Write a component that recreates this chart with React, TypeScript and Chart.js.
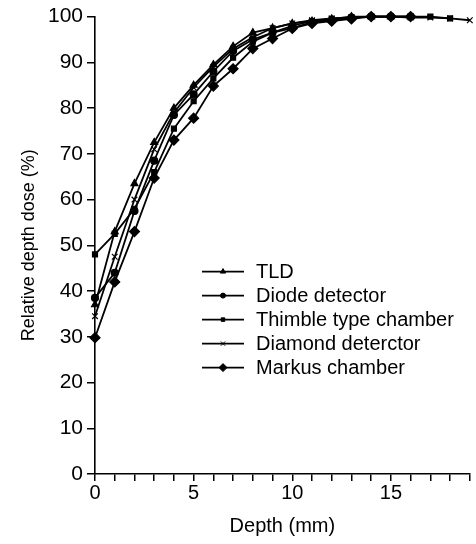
import React, { useEffect, useRef } from 'react';
import { Chart, registerables } from 'chart.js';
import { drawPoint } from 'chart.js/helpers';

Chart.register(...registerables);

const depth = [0, 1, 2, 3, 4, 5, 6, 7, 8, 9, 10, 11, 12, 13, 14, 15, 16, 17, 18, 19];
const seriesNames = ['TLD', 'Diode detector', 'Thimble type chamber', 'Diamond deterctor', 'Markus chamber'];
const tld = [37, 53, 63.5, 72.5, 80, 85, 89.5, 93.5, 96.5, 97.5, 98.5, 99, 99.5, 100, 100, 100, 100];
const diode = [38.5, 44, 57.5, 68.5, 78.5, 83, 88, 92.5, 95, 96.5, 97.5, 98.8, 99.2, 99.8, 100, 100, 100];
const thimble = [48, 52.5, 58, 66, 75.5, 81.5, 86.5, 91, 94.5, 96.5, 98, 99, 99.5, 99.8, 100, 100, 100, 100, 99.6];
const diamond = [34.5, 47.5, 60, 71, 79, 84.5, 89, 93, 95.5, 97.5, 98.5, 99.2, 99.6, 99.8, 100, 100, 99.8, 99.8, 99.6, 99.2];
const markus = [29.8, 42, 53, 64.7, 73, 77.8, 84.8, 88.6, 93, 95.2, 97.4, 98.5, 99, 99.5, 100, 100, 100];
const pointStyles = ['triangle', 'circle', 'rect', 'crossRot', 'rectRot'];
const pointSizes = [4, 3.5, 3.5, 4, 5];
const xTickLabels = [0, 5, 10, 15];

const FONT = "'Liberation Sans', Arial, sans-serif";

const toPoints = (vals: number[]) => vals.map((v, i) => ({ x: depth[i], y: v }));

const lineLegend = {
  id: 'lineLegend',
  afterDraw(chart: any) {
    const { ctx, chartArea } = chart;
    const x0 = chartArea.left + 107;
    const y0 = chartArea.top + 255;
    const rowH = 24;
    chart.data.datasets.forEach((ds: any, i: number) => {
      const y = y0 + i * rowH;
      ctx.save();
      ctx.strokeStyle = '#000';
      ctx.fillStyle = '#000';
      ctx.lineWidth = 1.8;
      ctx.beginPath();
      ctx.moveTo(x0, y);
      ctx.lineTo(x0 + 42, y);
      ctx.stroke();
      ctx.lineWidth = 1;
      drawPoint(ctx, { pointStyle: ds.pointStyle, radius: Math.max(2.5, ds.pointRadius - 1), rotation: 0, borderWidth: 1 } as any, x0 + 21, y);
      ctx.font = `20px ${FONT}`;
      ctx.textBaseline = 'middle';
      ctx.textAlign = 'left';
      ctx.fillText(ds.label, x0 + 54, y + 1);
      ctx.restore();
    });
  },
};

export default function App() {
  const ref = useRef<HTMLCanvasElement>(null);
  useEffect(() => {
    if (!ref.current) return;
    const all = [tld, diode, thimble, diamond, markus];
    const chart = new Chart(ref.current, {
      type: 'line',
      data: {
        datasets: all.map((vals, i) => ({
          label: seriesNames[i],
          data: toPoints(vals),
          borderColor: '#000',
          backgroundColor: '#000',
          borderWidth: 1.8,
          pointStyle: pointStyles[i] as any,
          pointRadius: pointSizes[i],
          pointBorderWidth: 1.2,
          pointBorderColor: '#000',
          pointBackgroundColor: '#000',
          tension: 0,
          clip: false as any,
        })),
      },
      options: {
        animation: false,
        responsive: false,
        devicePixelRatio: 1,
        layout: { padding: { left: 0, right: 4, top: 16, bottom: 0 } },
        plugins: { legend: { display: false }, tooltip: { enabled: false } },
        scales: {
          x: {
            type: 'linear',
            min: 0,
            max: 19,
            border: { display: true, color: '#000', width: 1.6 },
            grid: { drawOnChartArea: false, drawTicks: true, tickLength: 7, color: '#000', lineWidth: 1.5 },
            ticks: {
              stepSize: 1,
              autoSkip: false,
              maxRotation: 0,
              padding: 0,
              color: '#000',
              font: { family: FONT, size: 20 },
              callback: (v: any) => (xTickLabels.includes(Number(v)) ? String(v) : ''),
            },
            title: { display: true, text: 'Depth (mm)', color: '#000', font: { family: FONT, size: 20 }, padding: { top: 0, bottom: 6 } },
            afterFit: (s: any) => { s.height = 70; },
          },
          y: {
            min: 0,
            max: 100,
            border: { display: true, color: '#000', width: 1.6 },
            grid: { drawOnChartArea: false, drawTicks: true, tickLength: 8, color: '#000', lineWidth: 1.5 },
            ticks: { stepSize: 10, padding: 4, color: '#000', font: { family: FONT, size: 21 } },
            title: { display: true, text: 'Relative depth dose (%)', color: '#000', font: { family: FONT, size: 18 }, padding: { top: 18, bottom: 0 } },
            afterFit: (s: any) => { s.width = 95; },
          },
        },
      },
      plugins: [lineLegend],
    });
    return () => chart.destroy();
  }, []);
  return (
    <div style={{ position: 'absolute', left: 0, top: 0, width: 476, height: 544, background: '#fff' }}>
      <canvas ref={ref} width={476} height={544} />
    </div>
  );
}
